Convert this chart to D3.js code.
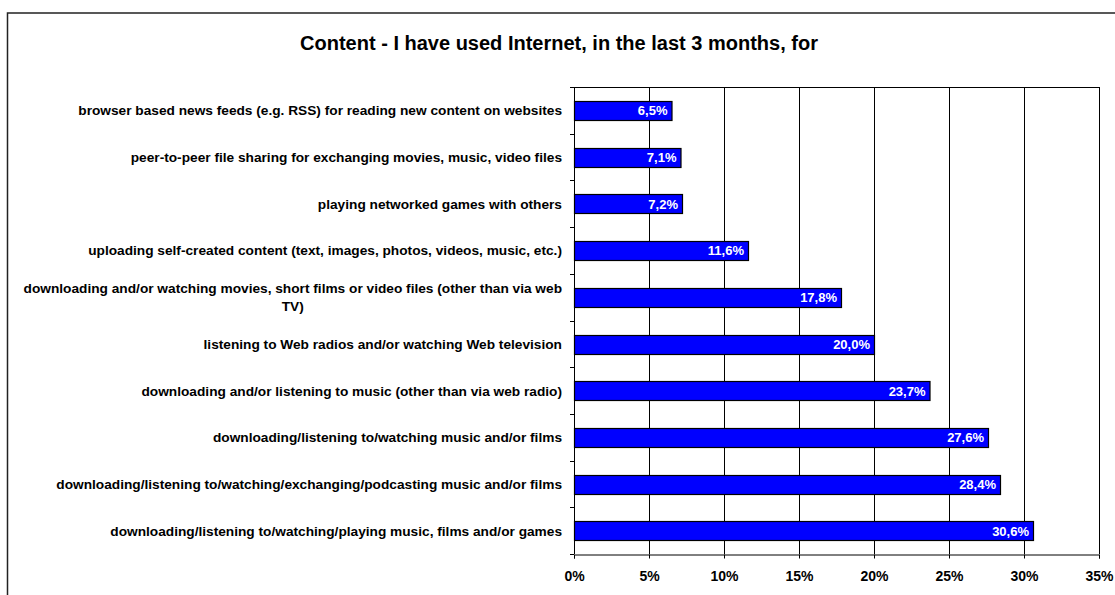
<!DOCTYPE html>
<html>
<head>
<meta charset="utf-8">
<script src="https://cdn.jsdelivr.net/npm/d3@7"></script>
<style>
  body { margin: 0; background: #fff; }
  svg text { font-family: Arial, "Liberation Sans", sans-serif; font-weight: bold; }
</style>
</head>
<body>
<div id="chart"></div>
<script>
var categories = [
  "browser based news feeds (e.g. RSS) for reading new content on websites",
  "peer-to-peer file sharing for exchanging movies, music, video files",
  "playing networked games with others",
  "uploading self-created content (text, images, photos, videos, music, etc.)",
  "downloading and/or watching movies, short films or video files (other than via web|TV)",
  "listening to Web radios and/or watching Web television",
  "downloading and/or listening to music (other than via web radio)",
  "downloading/listening to/watching music and/or films",
  "downloading/listening to/watching/exchanging/podcasting music and/or films",
  "downloading/listening to/watching/playing music, films and/or games"
];
var values = [6.5, 7.1, 7.2, 11.6, 17.8, 20.0, 23.7, 27.6, 28.4, 30.6];
var xTicks = [0, 5, 10, 15, 20, 25, 30, 35];
var title = "Content - I have used Internet, in the last 3 months, for";

var width = 1115, height = 595;
var margin = {left: 574, right: 16, top: 87, bottom: 41};
var labelSize = "13.7px", valSize = "13px", tickSize = "14px";

var svg = d3.select("#chart").append("svg")
  .attr("width", width)
  .attr("height", height);

// outer chart frame (runs off the right and bottom edges)
svg.append("rect")
  .attr("x", 7.5).attr("y", 13)
  .attr("width", width + 10).attr("height", height + 10)
  .attr("fill", "none")
  .attr("stroke", "#222")
  .attr("stroke-width", 1.5);

svg.append("text")
  .attr("x", 559).attr("y", 50)
  .attr("text-anchor", "middle")
  .style("font-size", "20px")
  .text(title);

var x = d3.scaleLinear().domain([0, 35]).range([margin.left, width - margin.right]);
var y = d3.scaleBand().domain(d3.range(categories.length))
  .range([margin.top, height - margin.bottom])
  .paddingInner(0.6).paddingOuter(0.3);

var plot = svg.append("g");

// vertical gridlines
plot.selectAll("line.grid")
  .data(xTicks.slice(1))
  .enter().append("line")
  .attr("class", "grid")
  .attr("x1", function(d) { return Math.round(x(d)) + 0.5; })
  .attr("x2", function(d) { return Math.round(x(d)) + 0.5; })
  .attr("y1", margin.top).attr("y2", height - margin.bottom)
  .attr("stroke", "#000").attr("stroke-width", 1);

// top border of plot area
plot.append("line")
  .attr("x1", margin.left).attr("x2", width - margin.right)
  .attr("y1", margin.top + 0.5).attr("y2", margin.top + 0.5)
  .attr("stroke", "#000");

// y axis with ticks at band boundaries
var yAxis = plot.append("g");
yAxis.append("line")
  .attr("x1", margin.left + 0.5).attr("x2", margin.left + 0.5)
  .attr("y1", margin.top).attr("y2", height - margin.bottom)
  .attr("stroke", "#000");
var bandTop = function(i) {
  return Math.round(margin.top + i * (height - margin.bottom - margin.top) / categories.length) + 0.5;
};
yAxis.selectAll("line.tick")
  .data(d3.range(categories.length + 1))
  .enter().append("line")
  .attr("class", "tick")
  .attr("x1", margin.left - 4).attr("x2", margin.left)
  .attr("y1", bandTop).attr("y2", bandTop)
  .attr("stroke", "#000");

// x axis
var xAxis = d3.axisBottom(x)
  .tickValues(xTicks)
  .tickSize(4)
  .tickPadding(13)
  .tickFormat(function(d) { return d + "%"; });
var gx = plot.append("g")
  .attr("transform", "translate(0," + (height - margin.bottom + 0.5) + ")")
  .call(xAxis);
gx.select(".domain").attr("stroke", "#000");
gx.selectAll("text").style("font-size", tickSize).attr("fill", "#000");

// bars
plot.selectAll("rect.bar")
  .data(values)
  .enter().append("rect")
  .attr("class", "bar")
  .attr("x", x(0) + 0.5)
  .attr("y", function(d, i) { return Math.round(y(i)) + 0.5; })
  .attr("width", function(d) { return x(d) - x(0); })
  .attr("height", Math.round(y.bandwidth()))
  .attr("fill", "#0000ff")
  .attr("stroke", "#000")
  .attr("stroke-width", 1.2);

// value labels
plot.selectAll("text.val")
  .data(values)
  .enter().append("text")
  .attr("class", "val")
  .attr("x", function(d) { return x(d) - 4; })
  .attr("y", function(d, i) { return y(i) + y.bandwidth() / 2 + 5; })
  .attr("text-anchor", "end")
  .attr("fill", "#fff")
  .style("font-size", valSize)
  .text(function(d) { return d3.format(".1f")(d).replace(".", ",") + "%"; });

// category labels
var labelRight = margin.left - 12;
categories.forEach(function(c, i) {
  var lines = c.split("|");
  var cy = y(i) + y.bandwidth() / 2;
  if (lines.length === 1) {
    svg.append("text")
      .attr("x", labelRight).attr("y", cy + 5)
      .attr("text-anchor", "end")
      .style("font-size", labelSize)
      .text(c);
  } else {
    var t1 = svg.append("text")
      .attr("x", labelRight).attr("y", cy - 4)
      .attr("text-anchor", "end")
      .style("font-size", labelSize)
      .text(lines[0]);
    var w1 = t1.node().getComputedTextLength();
    svg.append("text")
      .attr("x", labelRight - w1 / 2).attr("y", cy + 14)
      .attr("text-anchor", "middle")
      .style("font-size", labelSize)
      .text(lines[1]);
  }
});
</script>
</body>
</html>
